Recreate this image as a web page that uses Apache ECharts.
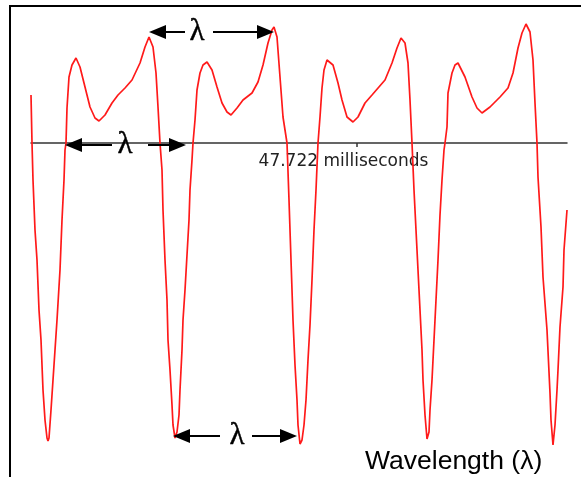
<!DOCTYPE html>
<html>
<head>
<meta charset="utf-8">
<script src="https://cdn.jsdelivr.net/npm/echarts@6/dist/echarts.min.js"></script>
<style>
html,body{margin:0;padding:0;background:#fff;}
#chart{width:581px;height:477px;}
</style>
</head>
<body>
<div id="chart"></div>
<script>
// Time (arbitrary units along the trace) and amplitude
var timeVals = [
  0,1,2,4,6,8,10,12,14,16,17,18,20,22,24,26,29,31,33,34,35,
  36,38,41,45,49,54,59,64,68,74,81,87,94,101,109,114,118,122,125,127,129,
  131,132,134,136,137,139,141,142,144,146,148,149,151,152,154,156,158,159,161,162,
  164,166,169,172,176,181,186,191,196,200,206,212,221,227,232,237,241,243,246,249,252,256,
  258,260,262,264,266,267,269,271,273,275,277,279,281,283,285,287,
  289,291,293,296,298,302,307,311,316,322,327,334,341,354,361,366,370,374,377,379,381,
  383,385,387,389,391,392,394,396,398,399,401,403,405,407,409,411,413,414,
  416,417,421,424,427,434,441,446,451,459,469,477,482,487,491,495,499,502,504,506,
  507,510,512,516,519,520,522,524,526,527,529,532,533,536
];
var amplitudes = [
  48,0,-37,-87,-117,-167,-197,-247,-277,-295,-298,-295,-267,-237,-207,-177,-127,-77,-37,-7,0,
  35,66,78,85,76,56,36,25,22,28,40,48,55,63,80,96,106,96,70,36,0,
  -27,-67,-117,-157,-197,-227,-262,-282,-295,-289,-272,-247,-207,-177,-147,-112,-77,-47,-17,0,
  23,53,70,78,81,73,56,40,31,28,35,43,50,61,78,100,113,116,106,66,26,0,
  -57,-117,-177,-222,-257,-282,-301,-297,-282,-257,-217,-182,-137,-87,-47,0,
  26,55,73,83,85,78,60,43,26,21,26,40,48,63,80,95,105,100,80,43,0,
  -47,-87,-127,-167,-207,-237,-272,-296,-289,-267,-237,-197,-157,-117,-72,-37,-7,0,
  16,50,70,78,80,66,46,35,30,36,46,55,70,95,110,119,111,83,40,0,
  -34,-84,-134,-187,-250,-277,-302,-282,-247,-227,-184,-144,-107,-67
];
var tickValues = [326];
var tickLabels = ['47.722 milliseconds'];
var lambdaText = 'λ';
var captionText = 'Wavelength (λ)';

// wavelength markers: [start tip, end tip, gap start, gap end, level, label x]
var markers = [
  [118, 243, 154, 182, 111, 166],
  [34, 155, 81, 117, -2, 94],
  [142, 266, 189, 221, -293, 206]
];

var seriesData = timeVals.map(function (t, i) { return [t, amplitudes[i]]; });
var headLen = 17, headW = 14, half = headLen / 2;
var arrowLines = [];
var lambdaPts = [];
markers.forEach(function (m) {
  arrowLines.push([
    {coord: [m[0] + half, m[4]], symbol: 'triangle', symbolSize: [headW, headLen]},
    {coord: [m[2], m[4]], symbol: 'none'}
  ]);
  arrowLines.push([
    {coord: [m[3], m[4]], symbol: 'none'},
    {coord: [m[1] - half, m[4]], symbol: 'triangle', symbolSize: [headW, headLen]}
  ]);
  lambdaPts.push([m[5], m[4]]);
});

var chart = echarts.init(document.getElementById('chart'), null, {renderer: 'canvas'});
chart.setOption({
  animation: false,
  backgroundColor: '#fff',
  title: {
    text: captionText,
    left: 365, top: 448, padding: 0,
    textStyle: {fontSize: 26.5, fontWeight: 'normal', fontFamily: 'Liberation Sans', color: '#000'}
  },
  graphic: [{
    type: 'polyline',
    shape: {points: [[10, 477], [10, 6], [581, 6]]},
    style: {stroke: '#000', lineWidth: 2, fill: null}
  }],
  grid: {left: 31, width: 536, top: 13, height: 440},
  xAxis: {
    type: 'value', min: 0, max: 536,
    position: 'bottom', offset: -310,
    axisLine: {show: true, onZero: false, lineStyle: {color: '#333', width: 1.5}},
    axisTick: {show: true, customValues: tickValues, length: 4, lineStyle: {color: '#333', width: 1.5}},
    axisLabel: {
      show: true, customValues: tickValues, margin: 10,
      formatter: function (v) { var i = tickValues.indexOf(v); return i >= 0 ? tickLabels[i] : ''; },
      fontFamily: 'DejaVu Sans', fontSize: 17, color: '#222',
      padding: [0, 27, 0, 0], align: 'center'
    },
    splitLine: {show: false}
  },
  yAxis: {
    type: 'value', min: -310, max: 130, show: false,
    splitLine: {show: false}
  },
  series: [{
    type: 'line',
    data: seriesData,
    showSymbol: false,
    symbol: 'none',
    smooth: false,
    lineStyle: {color: '#ff1a1a', width: 1.7},
    markLine: {
      silent: true,
      symbol: ['none', 'none'],
      label: {show: false},
      lineStyle: {color: '#000', width: 2, type: 'solid'},
      itemStyle: {color: '#000'},
      data: arrowLines
    }
  }, {
    type: 'scatter',
    data: lambdaPts,
    symbolSize: 1,
    itemStyle: {color: 'rgba(0,0,0,0)', opacity: 1},
    label: {
      show: true, position: 'inside',
      formatter: function () { return lambdaText; },
      fontFamily: 'Liberation Serif', fontSize: 31, color: '#000',
      textBorderColor: '#000', textBorderWidth: 0.4
    }
  }]
});
</script>
</body>
</html>
